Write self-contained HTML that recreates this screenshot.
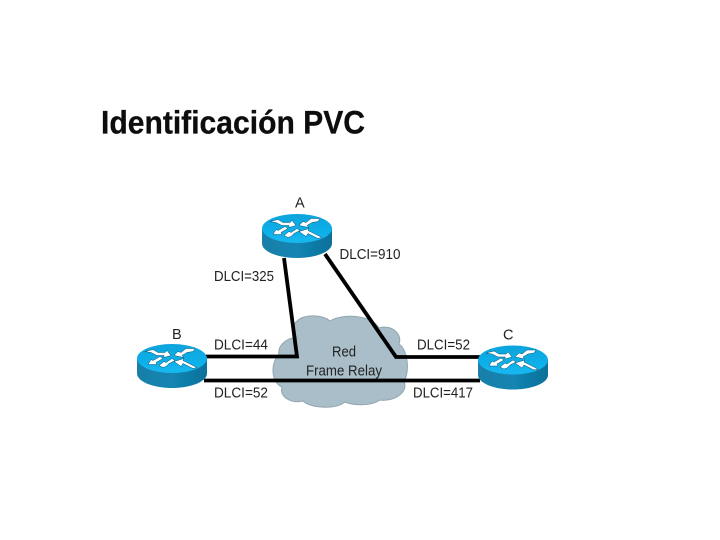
<!DOCTYPE html>
<html>
<head>
<meta charset="utf-8">
<style>
html,body{margin:0;padding:0;background:#fff;width:720px;height:540px;overflow:hidden}
svg{display:block}
text{font-family:"Liberation Sans",sans-serif;fill:#222}
</style>
</head>
<body>
<svg width="720" height="540" viewBox="0 0 720 540" xmlns="http://www.w3.org/2000/svg">
<defs>
<filter id="soft" x="-5%" y="-5%" width="110%" height="110%"><feGaussianBlur stdDeviation="0.35"/></filter>
<linearGradient id="side" x1="0" x2="1" y1="0" y2="0">
<stop offset="0" stop-color="#1a7fa8"/>
<stop offset="0.5" stop-color="#1285b3"/>
<stop offset="1" stop-color="#0f7099"/>
</linearGradient>
<linearGradient id="top" x1="0" x2="0" y1="0" y2="1">
<stop offset="0" stop-color="#09a3dc"/>
<stop offset="1" stop-color="#14b8f0"/>
</linearGradient>
<g id="router">
<path d="M-35,0 V15 C-35,23 -19,29.500 0,29.500 C19,29.500 35,23 35,15 V0 Z" fill="url(#side)"/>
<ellipse cx="0" cy="0" rx="35" ry="14.500" fill="url(#top)"/>
<g fill="#fff" stroke="#0b4f72" stroke-width="0.5">
<polygon points="-27,-7 -19,-9 -14,-6 -7,-6 -5,-8 -1,-3 -8,-1 -8,-3 -15,-3 -21,-6"/>
<polygon points="-24,6 -21,1 -19,2 -12,-2 -9,0 -16,4 -15,6"/>
<polygon points="-13,7 -8,3 -6,4 0,0 3,2 -3,5 -6,8 -9,9"/>
<polygon points="2,-3 6,-7 9,-6 14,-10 23,-10 21,-7 15,-6 10,-3 12,-1"/>
<polygon points="2,3 12,0 11,2 19,6 25,9 21,10 11,5 9,8"/>
</g>
</g>
</defs>

<g filter="url(#soft)">
<text x="101" y="133.500" font-size="32.500" font-weight="700" textLength="264" lengthAdjust="spacingAndGlyphs" stroke="#111" stroke-width="0.3" style="fill:#111">Identificación PVC</text>

<path d="M296,322 C303,314 322,314 330,321 C343,313 372,315 379,328 C391,324 403,334 399,344 C408,350 410,372 404,381 C409,393 393,402 380,400 C370,407 352,405 345,402 C335,410 310,408 303,401 C290,404 279,396 282,387 C270,382 271,361 279,355 C277,345 288,337 297,338 C293,332 292,326 296,322 Z" fill="#a9bec8" stroke="#8fa5b0" stroke-width="1"/>

<g fill="none" stroke="#000" stroke-width="3.800" stroke-linejoin="miter">
<polyline points="205,356.500 297,356.500 284,258"/>
<polyline points="480,357 396,357 325,254"/>
<line x1="204" y1="380.500" x2="480" y2="380.500"/>
</g>

<use href="#router" x="297" y="228.500"/>
<use href="#router" x="172" y="358.500"/>
<use href="#router" x="513" y="360"/>

<g font-size="14.500">
<text x="295" y="207.500">A</text>
<text x="172" y="339">B</text>
<text x="503" y="339.500">C</text>
<text x="339.500" y="259" textLength="61" lengthAdjust="spacingAndGlyphs">DLCI=910</text>
<text x="214" y="281" textLength="60" lengthAdjust="spacingAndGlyphs">DLCI=325</text>
<text x="214" y="349.500" textLength="54" lengthAdjust="spacingAndGlyphs">DLCI=44</text>
<text x="214" y="397.500" textLength="54" lengthAdjust="spacingAndGlyphs">DLCI=52</text>
<text x="417" y="349.500" textLength="53" lengthAdjust="spacingAndGlyphs">DLCI=52</text>
<text x="413" y="397.500" textLength="60" lengthAdjust="spacingAndGlyphs">DLCI=417</text>
<text x="332" y="356.500" textLength="24" lengthAdjust="spacingAndGlyphs">Red</text>
<text x="306" y="375.500" textLength="76" lengthAdjust="spacingAndGlyphs">Frame Relay</text>
</g>
</g>
</svg>
</body>
</html>
